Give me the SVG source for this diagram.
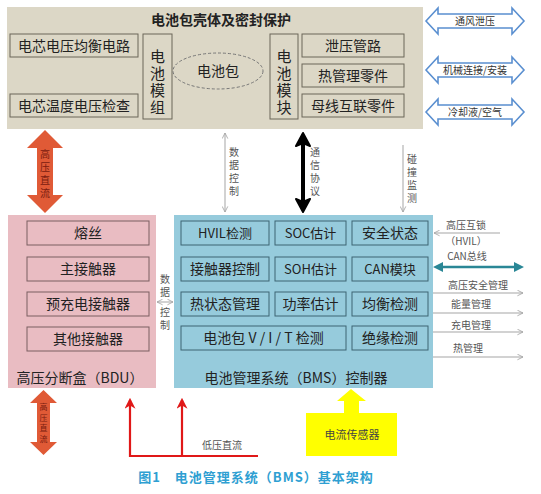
<svg xmlns="http://www.w3.org/2000/svg" width="541" height="494" viewBox="0 0 541 494">
<defs>
<style>
text{font-family:"Noto Sans CJK SC","Noto Sans",sans-serif;fill:#222;}
.bx{font-size:14px;text-anchor:middle;}
.b13{font-size:13px;}
.vt{writing-mode:vertical-rl;text-anchor:middle;}
.v15{font-size:15px;letter-spacing:2px;}
.v10{font-size:10px;letter-spacing:3px;fill:#555;}
.sm{font-size:10px;text-anchor:middle;fill:#555;}
.tb{fill:#dcd7c6;stroke:#6b6658;stroke-width:1;}
.pb{fill:#e9bcc2;stroke:#7a5e60;stroke-width:1;}
.bb{fill:#96cbdc;stroke:#3d6472;stroke-width:1;}
.thin{stroke:#a5a5a5;stroke-width:1;fill:none;}
.blu{fill:#fff;stroke:#5a8fd0;stroke-width:1.6;}
.org{fill:#e05a36;}
.red{stroke:#e01818;stroke-width:2.2;fill:none;}
</style>
<marker id="ah" viewBox="0 0 10 10" refX="9" refY="5" markerWidth="7" markerHeight="7" orient="auto-start-reverse"><path d="M1,1 L9,5 L1,9" fill="none" stroke="#a5a5a5" stroke-width="1.2"/></marker>
<marker id="rh" viewBox="0 0 10 10" refX="8" refY="5" markerWidth="5" markerHeight="5" orient="auto"><path d="M0,0 L10,5 L0,10 L3,5 Z" fill="#e01818"/></marker>
</defs>
<rect width="541" height="494" fill="#fff"/>

<g id="pack">
<rect x="7" y="7" width="416" height="122" fill="#dcd7c6"/>
<text x="221" y="25" font-size="14" font-weight="bold" text-anchor="middle">电池包壳体及密封保护</text>
</g>
<g id="cell-balance"><rect class="tb" x="10" y="34" width="128" height="23"/><text class="bx" x="74" y="51">电芯电压均衡电路</text></g>
<g id="cell-temp"><rect class="tb" x="10" y="94" width="128" height="23"/><text class="bx" x="74" y="111">电芯温度电压检查</text></g>
<g id="module"><rect class="tb" x="143" y="34" width="29" height="85"/>
<text class="vt v15" x="157.5" y="83">电池模组</text></g>
<g id="battery-pack"><ellipse cx="218" cy="71" rx="45" ry="18" fill="none" stroke="#777" stroke-width="1" stroke-dasharray="3,2"/><text class="bx" x="218" y="76">电池包</text></g>
<g id="module2"><rect class="tb" x="270" y="34" width="28" height="85"/>
<text class="vt v15" x="284" y="83">电池模块</text></g>
<g id="vent"><rect class="tb" x="302" y="34" width="102" height="23"/><text class="bx" x="353" y="51">泄压管路</text></g>
<g id="thermal-parts"><rect class="tb" x="302" y="64" width="102" height="23"/><text class="bx" x="353" y="81">热管理零件</text></g>
<g id="busbar"><rect class="tb" x="302" y="94" width="102" height="23"/><text class="bx" x="353" y="111">母线互联零件</text></g>

<g id="ext-arrows">
<path class="blu" d="M426,21 L438,8 L438,14 L512,14 L512,8 L524,21 L512,34 L512,28 L438,28 L438,34 Z"/>
<text class="sm" x="475" y="25" style="fill:#333">通风泄压</text>
<path class="blu" d="M426,70 L438,57 L438,63 L512,63 L512,57 L524,70 L512,83 L512,77 L438,77 L438,83 Z"/>
<text class="sm" x="475" y="74" style="fill:#333">机械连接/安装</text>
<path class="blu" d="M426,112 L438,99 L438,105 L512,105 L512,99 L524,112 L512,125 L512,119 L438,119 L438,125 Z"/>
<text class="sm" x="475" y="116" style="fill:#333">冷却液/空气</text>
</g>

<g id="bdu">
<rect x="8" y="215" width="148" height="173" fill="#e9bcc2"/>
<text class="bx" x="80" y="383">高压分断盒（BDU）</text>
</g>
<g id="fuse"><rect class="pb" x="27" y="221" width="122" height="24"/><text class="bx" x="88" y="238">熔丝</text></g>
<g id="main-contactor"><rect class="pb" x="27" y="257" width="122" height="24"/><text class="bx" x="88" y="274">主接触器</text></g>
<g id="precharge"><rect class="pb" x="27" y="292" width="122" height="24"/><text class="bx" x="88" y="309">预充电接触器</text></g>
<g id="other-contactor"><rect class="pb" x="27" y="327" width="122" height="24"/><text class="bx" x="88" y="344">其他接触器</text></g>

<g id="bms">
<rect x="174" y="215" width="259" height="173" fill="#96cbdc"/>
<text class="bx" x="296" y="383">电池管理系统（BMS）控制器</text>
</g>
<g id="hvil"><rect class="bb" x="181" y="221" width="88" height="24"/><text class="bx b13" x="225" y="238">HVIL检测</text></g>
<g id="soc"><rect class="bb" x="275" y="221" width="71" height="24"/><text class="bx b13" x="310.5" y="238">SOC估计</text></g>
<g id="safety"><rect class="bb" x="352" y="221" width="76" height="24"/><text class="bx" x="390" y="238">安全状态</text></g>
<g id="contactor-ctrl"><rect class="bb" x="181" y="257" width="88" height="24"/><text class="bx" x="225" y="274">接触器控制</text></g>
<g id="soh"><rect class="bb" x="275" y="257" width="71" height="24"/><text class="bx b13" x="310.5" y="274">SOH估计</text></g>
<g id="can"><rect class="bb" x="352" y="257" width="76" height="24"/><text class="bx b13" x="390" y="274">CAN模块</text></g>
<g id="thermal-mgmt"><rect class="bb" x="181" y="292" width="88" height="24"/><text class="bx" x="225" y="309">热状态管理</text></g>
<g id="power"><rect class="bb" x="275" y="292" width="71" height="24"/><text class="bx" x="310.5" y="309">功率估计</text></g>
<g id="balance"><rect class="bb" x="352" y="292" width="76" height="24"/><text class="bx" x="390" y="309">均衡检测</text></g>
<g id="vit"><rect class="bb" x="181" y="326" width="165" height="24"/><text class="bx" x="263.5" y="343">电池包 V / I / T 检测</text></g>
<g id="insulation"><rect class="bb" x="352" y="326" width="76" height="24"/><text class="bx" x="390" y="343">绝缘检测</text></g>

<g id="sensor">
<path d="M337,401 L351,389 L366,401 L359,401 L359,413 L397,413 L397,456 L306,456 L306,413 L344,413 L344,401 Z" fill="#ffff00"/>
<text x="352" y="439" text-anchor="middle" style="font-size:11px;fill:#444">电流传感器</text>
</g>

<g id="connectors">
<path class="org" d="M45,130 L63,148 L53,148 L53,195 L63,195 L45,213 L27,195 L37,195 L37,148 L27,148 Z"/>
<text class="vt v10" x="45" y="175" style="fill:#7a1c10">高压直流</text>

<line class="thin" x1="225" y1="133" x2="225" y2="212" marker-start="url(#ah)" marker-end="url(#ah)"/>
<text class="vt v10" x="234" y="173">数据控制</text>

<line x1="303" y1="142" x2="303" y2="204" stroke="#000" stroke-width="4"/>
<path d="M303,133 L310,146 L303,143 L296,146 Z M303,212 L310,199 L303,202 L296,199 Z" fill="#000" stroke="#000" stroke-width="2" stroke-linejoin="round"/>
<text class="vt v10" x="315" y="173">通信协议</text>

<line class="thin" x1="403" y1="145" x2="403" y2="212" marker-end="url(#ah)"/>
<text class="vt v10" x="412" y="180">碰撞监测</text>

<line class="thin" x1="157" y1="302" x2="173" y2="302" marker-start="url(#ah)" marker-end="url(#ah)"/>
<text class="vt v10" x="165" y="287">数据</text>
<text class="vt v10" x="165" y="320">控制</text>

<line class="thin" x1="500" y1="233" x2="434" y2="233" marker-end="url(#ah)"/>
<text class="sm" x="466" y="229">高压互锁</text>
<text class="sm" x="466" y="245">（HVIL）</text>

<line x1="440" y1="267" x2="517" y2="267" stroke="#2a8796" stroke-width="2.5"/>
<path d="M433,267 L443,262 L443,272 Z M524,267 L514,262 L514,272 Z" fill="#2a8796"/>
<text class="sm" x="467" y="260">CAN总线</text>

<line class="thin" x1="433" y1="293" x2="523" y2="293" marker-end="url(#ah)"/>
<text class="sm" x="478" y="289">高压安全管理</text>
<line class="thin" x1="433" y1="313" x2="523" y2="313" marker-end="url(#ah)"/>
<text class="sm" x="471" y="308">能量管理</text>
<line class="thin" x1="433" y1="332" x2="523" y2="332" marker-end="url(#ah)"/>
<text class="sm" x="471" y="329">充电管理</text>
<line class="thin" x1="433" y1="357" x2="523" y2="357" marker-end="url(#ah)"/>
<text class="sm" x="468" y="352">热管理</text>

<path class="org" d="M43.5,390 L57,403 L50,403 L50,442 L57,442 L43.5,455 L30,442 L37,442 L37,403 L30,403 Z"/>
<text class="vt" x="43.5" y="424" style="font-size:8px;letter-spacing:2.5px;fill:#7a1c10">高压直流</text>

<path class="red" d="M258,456 L130,456 L130,400" marker-end="url(#rh)"/>
<path class="red" d="M182,456 L182,400" marker-end="url(#rh)"/>
<text class="sm" x="222" y="449">低压直流</text>
</g>

<text x="256" y="482" font-size="13" font-weight="bold" text-anchor="middle" style="fill:#2f9fd2" letter-spacing="1">图1　电池管理系统（BMS）基本架构</text>
</svg>
